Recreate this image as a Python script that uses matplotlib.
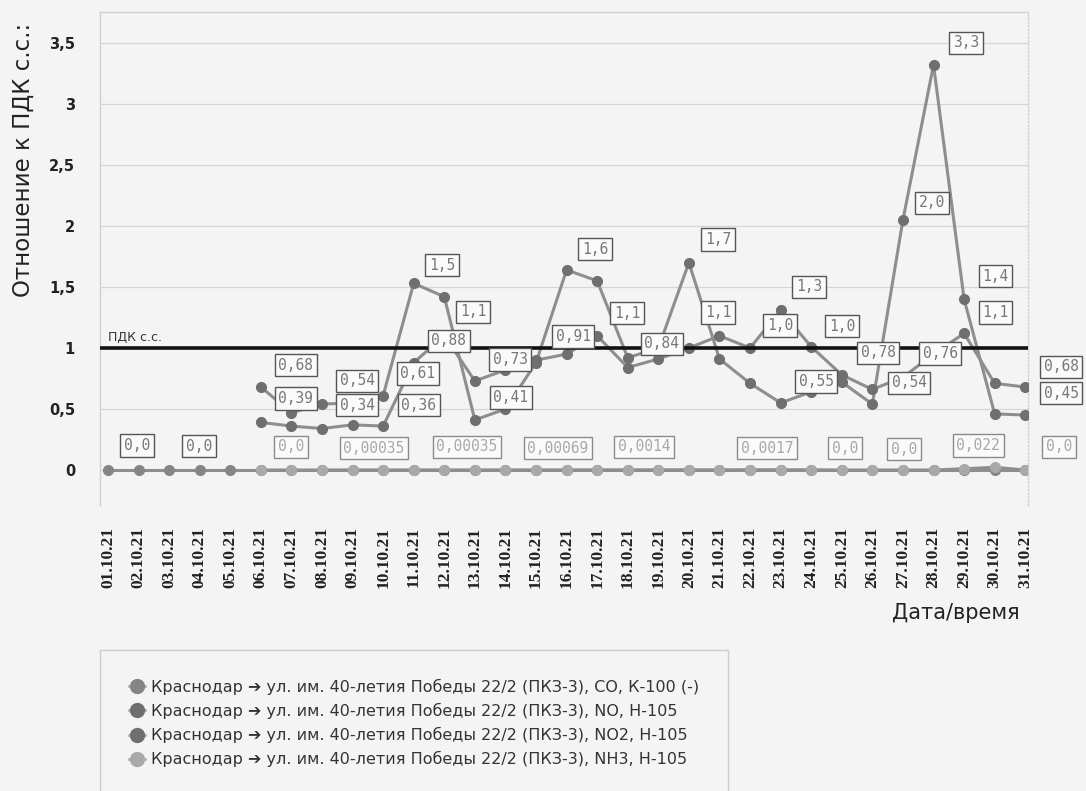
import matplotlib
matplotlib.use("Agg")
import matplotlib.pyplot as plt
from matplotlib.lines import Line2D
from matplotlib.ticker import FuncFormatter, MultipleLocator

# --- data ---
days = list(range(1, 32))
day_labels = [f"{d:02d}.10.21" for d in days]

co_days = list(range(1, 32))
co_vals = [0.0, 0.0, 0.0, 0.0, 0.0, 0.0, 0.0, 0.0, 0.0, 0.0,
           0.0, 0.0, 0.0, 0.0, 0.0, 0.0, 0.0, 0.0, 0.0, 0.0,
           0.0, 0.0, 0.0, 0.0, 0.0, 0.0, 0.0, 0.0, 0.0, 0.0, 0.0]

h105_days = list(range(6, 32))
no_vals = [0.68, 0.47, 0.54, 0.55, 0.61, 1.53, 1.42, 0.41, 0.50, 0.88,
           1.64, 1.55, 0.92, 1.00, 1.70, 0.91, 0.71, 0.55, 0.64, 0.72,
           0.54, 2.05, 3.32, 1.40, 0.46, 0.45]
no2_vals = [0.39, 0.36, 0.34, 0.37, 0.36, 0.88, 1.10, 0.73, 0.82, 0.90,
            0.95, 1.10, 0.84, 0.91, 1.00, 1.10, 1.00, 1.31, 1.01, 0.78,
            0.66, 0.76, 0.95, 1.12, 0.71, 0.68]
nh3_vals = [0.0, 0.0, 0.0, 0.00035, 0.00035, 0.00035, 0.00035, 0.00035, 0.0005, 0.0006,
            0.00069, 0.001, 0.0012, 0.0014, 0.0015, 0.0016, 0.0017, 0.0017, 0.0017, 0.0,
            0.0, 0.0, 0.0, 0.01, 0.022, 0.0]

pdk_level = 1.0

series_names = [
    "Краснодар ➔ ул. им. 40-летия Победы 22/2 (ПКЗ-3), CO, К-100 (-)",
    "Краснодар ➔ ул. им. 40-летия Победы 22/2 (ПКЗ-3), NO, Н-105",
    "Краснодар ➔ ул. им. 40-летия Победы 22/2 (ПКЗ-3), NO2, Н-105",
    "Краснодар ➔ ул. им. 40-летия Победы 22/2 (ПКЗ-3), NH3, Н-105",
]

# data labels: text, x (day), y (value), light?
label_text = ["0,0", "0,0", "0,68", "0,39", "0,54", "0,34", "0,61", "0,36", "1,5", "1,1",
              "0,88", "0,73", "0,41", "1,6", "0,91", "1,1", "0,84", "1,7", "1,1", "1,0",
              "1,3", "1,0", "0,55", "0,78", "0,54", "0,76", "2,0", "3,3", "1,4", "1,1",
              "0,68", "0,45",
              "0,0", "0,00035", "0,00035", "0,00069", "0,0014", "0,0017", "0,0", "0,0",
              "0,022", "0,0"]
label_x = [1.95, 3.98, 7.15, 7.15, 9.15, 9.15, 11.14, 11.17, 11.93, 12.94,
           12.15, 14.15, 14.18, 16.93, 16.21, 17.98, 19.12, 20.95, 20.95, 22.98,
           23.93, 25.01, 24.16, 26.19, 27.20, 28.22, 27.95, 29.07, 30.02, 30.02,
           32.17, 32.17,
           6.99, 9.70, 12.74, 15.72, 18.53, 22.56, 25.11, 27.04, 29.46, 32.11]
label_y = [0.20, 0.195, 0.86, 0.585, 0.73, 0.53, 0.79, 0.53, 1.68, 1.295,
           1.06, 0.905, 0.595, 1.81, 1.095, 1.285, 1.035, 1.89, 1.29, 1.185,
           1.50, 1.18, 0.725, 0.96, 0.715, 0.955, 2.19, 3.50, 1.59, 1.29,
           0.845, 0.63,
           0.19, 0.18, 0.19, 0.18, 0.19, 0.18, 0.18, 0.17, 0.20, 0.19]
label_light = [False] * 32 + [True] * 10

BG = "#f4f4f4"
LINE = "#8e8e8e"

fig = plt.figure(figsize=(10.86, 7.91), dpi=100, facecolor=BG)
ax = fig.add_axes([100 / 1086, 1 - 505 / 791, 928 / 1086, 493 / 791], facecolor=BG)

ax.set_xlim(0.74, 31.09)
ax.set_ylim(-0.287, 3.754)

# grid
ax.yaxis.set_major_locator(MultipleLocator(0.5))
ax.grid(axis="y", color="#d6d6d6", lw=0.9)
ax.set_axisbelow(True)
for side in ["left", "top", "right", "bottom"]:
    ax.spines[side].set_color("#cfcfcf")
    ax.spines[side].set_linewidth(1)
ax.spines["right"].set_linestyle(":")
ax.spines["bottom"].set_visible(False)

styles = [
    (co_days, co_vals, "#858585", 2),
    (h105_days, no_vals, "#6f6f6f", 3),
    (h105_days, no2_vals, "#6f6f6f", 3),
    (h105_days, nh3_vals, "#a9a9a9", 2),
]
handles = []
for (xs, ys, mcol, z), name in zip(styles, series_names):
    ax.plot(xs, ys, color=LINE, lw=2.2, marker="o", markersize=7,
            markerfacecolor=mcol, markeredgecolor=mcol, zorder=z)
    handles.append(Line2D([], [], color="#b5b5b5", lw=2, marker="o", markersize=10,
                          markerfacecolor=mcol, markeredgecolor=mcol))

ax.axhline(pdk_level, color="#111111", lw=2.6, zorder=4)
ax.text(1.0, pdk_level + 0.03, "ПДК с.с.", fontsize=9, color="#333333",
        ha="left", va="bottom", zorder=5)

for t, x, y, light in zip(label_text, label_x, label_y, label_light):
    ax.text(x, y, t, fontsize=10.5, family="DejaVu Sans Mono",
            color="#a8a8a8" if light else "#777777", ha="center", va="center",
            zorder=6, clip_on=False,
            bbox=dict(boxstyle="square,pad=0.25", facecolor="#fafafa",
                      edgecolor="#8a8a8a" if light else "#555555", lw=1))

# ticks
ax.yaxis.set_major_formatter(FuncFormatter(lambda v, p: ("%g" % v).replace(".", ",")))
ax.tick_params(axis="y", length=0, pad=18, labelsize=10.5, labelcolor="#222222")
for lab in ax.get_yticklabels():
    lab.set_fontweight("bold")
ax.set_xticks(days)
ax.set_xticklabels(day_labels, rotation=90, family="Liberation Serif",
                   fontweight="bold", fontsize=12.5, color="#222222")
ax.tick_params(axis="x", length=0, pad=16)

ax.set_ylabel("Отношение к ПДК с.с.:", fontsize=16.5, color="#222222")
ax.yaxis.set_label_coords(-0.07, 0.70)

fig.text(1020 / 1086, 1 - 613 / 791, "Дата/время", fontsize=15, color="#222222",
         ha="right", va="center")

leg = fig.legend(handles, series_names, loc="upper left",
                 bbox_to_anchor=(100 / 1086, 1 - 650 / 791), fontsize=11.5,
                 frameon=True, fancybox=False, edgecolor="#cccccc", facecolor=BG,
                 framealpha=1, borderpad=1.8, handlelength=1.0, handletextpad=0.4,
                 labelspacing=0.5, borderaxespad=0)
for txt in leg.get_texts():
    txt.set_color("#333333")

fig.savefig("out.png", dpi=100, facecolor=BG)
